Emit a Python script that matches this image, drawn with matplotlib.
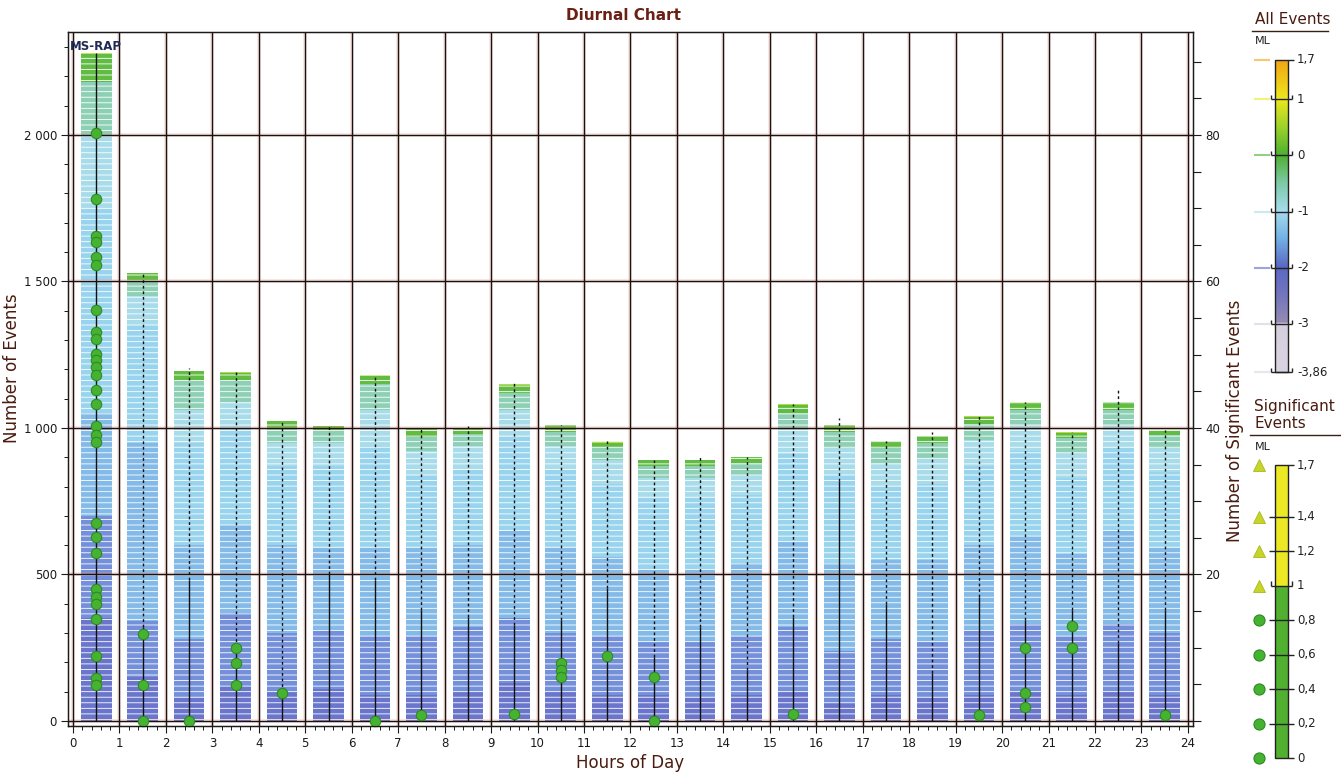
import matplotlib
matplotlib.use("Agg")
import matplotlib.pyplot as plt
import numpy as np
from matplotlib.colors import LinearSegmentedColormap
from matplotlib.ticker import MultipleLocator, FuncFormatter
from matplotlib.patches import Rectangle

W, H = 1341, 776

hours = list(range(24))

# events per hour split by ML class (low -> high):
# <-2.5, -2.5..-2, -2..-1.5, -1.5..-1, -1..-0.5, -0.5..0, 0..0.5, 0.5..1, >=1
counts = [
    [350, 350, 350, 700, 250, 180, 95, 5, 0],
    [150, 190, 610, 400, 100, 50, 28, 2, 0],
    [80, 200, 320, 350, 110, 100, 33, 2, 0],
    [120, 250, 300, 330, 90, 70, 28, 2, 0],
    [100, 200, 300, 270, 80, 50, 23, 2, 0],
    [110, 200, 280, 280, 80, 40, 15, 0, 0],
    [90, 200, 300, 350, 120, 90, 28, 2, 0],
    [90, 200, 300, 250, 80, 50, 25, 0, 0],
    [100, 220, 280, 260, 80, 40, 20, 0, 0],
    [130, 220, 300, 320, 90, 60, 28, 2, 0],
    [100, 200, 290, 270, 80, 45, 25, 0, 0],
    [90, 200, 270, 250, 80, 45, 15, 5, 0],
    [90, 180, 250, 240, 70, 40, 20, 0, 0],
    [80, 190, 250, 240, 70, 40, 20, 0, 0],
    [90, 200, 250, 230, 70, 40, 20, 0, 0],
    [100, 220, 290, 300, 90, 50, 28, 2, 0],
    [60, 180, 300, 300, 90, 55, 25, 0, 0],
    [90, 190, 270, 250, 80, 50, 25, 0, 0],
    [80, 190, 280, 260, 85, 55, 22, 0, 0],
    [90, 220, 290, 270, 90, 55, 23, 2, 0],
    [100, 230, 300, 290, 90, 50, 25, 3, 0],
    [90, 200, 280, 260, 85, 50, 18, 3, 0],
    [100, 230, 320, 280, 80, 50, 28, 0, 0],
    [90, 210, 290, 260, 80, 45, 18, 0, 0],
]

# vertical marker line per hour: solid part, then dotted up to the top
solid_tops = [2280, 320, 480, 252, 100, 500, 480, 380, 355, 328, 345, 454,
              220, 320, 175, 355, 820, 400, 164, 423, 345, 379, 266, 379]
line_tops = [2280, 1530, 1205, 1190, 1025, 1005, 1180, 995, 1005, 1155, 1010, 955,
             890, 908, 900, 1080, 1034, 955, 986, 1040, 1088, 986, 1133, 993]

# significant events (drawn on the events scale)
sig_events = [
    [2007, 1782, 1655, 1635, 1584, 1556, 1403, 1328, 1304, 1253, 1232, 1208, 1181,
     1130, 1082, 1007, 976, 952, 676, 628, 573, 450, 423, 399, 348, 222, 147, 123],
    [297, 123, 0],
    [0],
    [249, 198, 123],
    [96],
    [],
    [0],
    [20],
    [],
    [23],
    [198, 174, 150],
    [222],
    [150, 0],
    [],
    [],
    [23],
    [],
    [],
    [],
    [20],
    [249, 96, 48],
    [324, 249],
    [],
    [20],
]

x_ticks = list(range(25))
y_ticks = [0, 500, 1000, 1500, 2000]
y2_ticks = [20, 40, 60, 80]

all_ticks = [1.7, 1, 0, -1, -2, -3, -3.86]
all_labels = ["1,7", "1", "0", "-1", "-2", "-3", "-3,86"]
sig_ticks = [1.7, 1.4, 1.2, 1, 0.8, 0.6, 0.4, 0.2, 0]
sig_labels = ["1,7", "1,4", "1,2", "1", "0,8", "0,6", "0,4", "0,2", "0"]

bar_colors = ["#6a76cc", "#7490da", "#84bae8", "#98d4ee", "#a8dcea",
              "#8ed0b6", "#62bc44", "#b8dc40", "#e8e030"]

ML_LO, ML_HI = -3.86, 1.7
ml_stops = [(-3.86, "#dad4e2"), (-3.01, "#d4cede"), (-3.0, "#958cb2"),
            (-2.5, "#7476be"), (-2.0, "#5a68c4"), (-1.5, "#72b0e4"),
            (-1.0, "#a6dcee"), (-0.5, "#7ecaa6"), (0.0, "#4eb030"),
            (0.5, "#9cd22a"), (1.0, "#ece81e"), (1.7, "#f2a414")]
cmap = LinearSegmentedColormap.from_list(
    "ml", [((v - ML_LO) / (ML_HI - ML_LO), c) for v, c in ml_stops])

plt.rcParams["hatch.color"] = "white"
plt.rcParams["hatch.linewidth"] = 0.6
plt.rcParams["font.family"] = "DejaVu Sans"

TXT = "#4a1c10"


def fx(px):
    return px / W


def fy(py):
    return 1 - py / H


fig = plt.figure(figsize=(W / 100, H / 100), dpi=100)
fig.set_facecolor("white")

ax = fig.add_axes([fx(68), fy(726), (1193 - 68) / W, (726 - 32) / H])
ax.set_xlim(-0.108, 24.11)
ax.set_ylim(-17, 2351)

xc = np.array(hours) + 0.5
data = np.array(counts)
bottom = np.zeros(len(hours))
for b in range(data.shape[1]):
    ax.bar(xc, data[:, b], width=0.66, bottom=bottom, color=bar_colors[b],
           linewidth=0, hatch="---", zorder=1)
    bottom += data[:, b]

# grid: black lines with a faint red fringe
for x in x_ticks:
    ax.axvline(x, color="#f09a88", lw=2.6, alpha=0.3, zorder=2)
    ax.axvline(x, color="#141414", lw=1.0, zorder=2.1)
for y in y_ticks:
    ax.axhline(y, color="#f09a88", lw=2.6, alpha=0.3, zorder=2)
    ax.axhline(y, color="#141414", lw=1.0, zorder=2.1)

ax.vlines(xc, 0, solid_tops, color="#101010", lw=1.0, zorder=3)
ax.vlines(xc, solid_tops, line_tops, color="#101010", lw=1.0,
          linestyles=(0, (2, 2)), zorder=3)

for h, ys in zip(hours, sig_events):
    if ys:
        ax.plot([h + 0.5] * len(ys), ys, "o", ms=7.5, mfc="#46b232", mec="#2e8a22",
                mew=0.8, zorder=4, clip_on=False)

for s in ax.spines.values():
    s.set_color("#1a1a1a")
    s.set_linewidth(1.0)

ax.set_xticks(x_ticks)
ax.xaxis.set_minor_locator(MultipleLocator(0.2))
ax.tick_params(axis="x", which="major", direction="out", length=5, width=0.8,
               labelsize=8.5, pad=3, colors="#1a1a1a")
ax.tick_params(axis="x", which="minor", direction="out", length=3, width=0.7,
               colors="#1a1a1a")
ax.set_yticks(y_ticks)
ax.yaxis.set_major_formatter(FuncFormatter(lambda v, p: f"{int(v):,}".replace(",", " ")))
ax.yaxis.set_minor_locator(MultipleLocator(100))
ax.tick_params(axis="y", which="major", direction="out", length=5, width=0.8,
               labelsize=8.5, pad=3, colors="#1a1a1a")
ax.tick_params(axis="y", which="minor", direction="out", length=3, width=0.7,
               colors="#1a1a1a")

ax2 = ax.twinx()
lo, hi = ax.get_ylim()
ax2.set_ylim(lo / 25, hi / 25)
ax2.set_yticks(y2_ticks)
ax2.yaxis.set_minor_locator(MultipleLocator(5))
ax2.tick_params(axis="y", which="both", direction="out", length=6, width=0.8,
                labelsize=8.5, pad=3, colors="#1a1a1a")
for s in ax2.spines.values():
    s.set_color("#1a1a1a")

fig.text(fx(70), fy(46), "MS-RAP", fontsize=8.5, fontweight="bold",
         color="#1f2a55", va="center", ha="left")

fig.text(fx(623), fy(16), "Diurnal Chart", fontsize=11, fontweight="bold",
         color="#6a2014", ha="center", va="center")
fig.text(fx(12), fy(368), "Number of Events", fontsize=12, rotation=90,
         color=TXT, ha="center", va="center")
fig.text(fx(630), fy(763), "Hours of Day", fontsize=12, color=TXT,
         ha="center", va="center")
fig.text(fx(1235), fy(421), "Number of Significant Events", fontsize=12,
         rotation=90, color=TXT, ha="center", va="center")

# legend: all events
la = fig.add_axes([fx(1250), fy(372), 91 / W, 312 / H])
la.set_xlim(0, 91)
la.set_ylim(ML_LO, ML_HI)
la.axis("off")
grad = np.linspace(ML_LO, ML_HI, 400)[:, None]
la.imshow(grad, extent=[25, 38, ML_LO, ML_HI], origin="lower", aspect="auto",
          cmap=cmap, vmin=ML_LO, vmax=ML_HI)
la.add_patch(Rectangle((25, ML_LO), 13, ML_HI - ML_LO, fill=False, ec="#222222",
                       lw=1.0, clip_on=False))
for v, lab in zip(all_ticks, all_labels):
    c = cmap((v - ML_LO) / (ML_HI - ML_LO))
    la.hlines(v, 4, 20, color=c, lw=1.5, alpha=0.6, clip_on=False)
    if v == 1.7:
        la.hlines(v, 38, 44, color="#222222", lw=1.0, clip_on=False)
    else:
        la.hlines(v, 21, 42, color="#222222", lw=1.0, clip_on=False)
        la.vlines([21, 42], v, v + 0.07, color="#222222", lw=1.0, clip_on=False)
    la.text(47, v, lab, fontsize=8.5, color="#222222", va="center", ha="left",
            clip_on=False)
fig.text(fx(1255), fy(20), "All Events", fontsize=11, color=TXT, va="center")
fig.add_artist(plt.Line2D([fx(1252), fx(1328)], [fy(31), fy(31)], color="#3a2010", lw=1.0))
fig.text(fx(1255), fy(41), "ML", fontsize=8, color="#222222", va="center")

# legend: significant events
ls = fig.add_axes([fx(1250), fy(758), 91 / W, (758 - 465) / H])
ls.set_xlim(0, 91)
ls.set_ylim(0, 1.7)
ls.axis("off")
ls.add_patch(Rectangle((25, 0), 13, 1.0, color="#52b030", lw=0))
ls.add_patch(Rectangle((25, 1.0), 13, 0.7, color="#ece824", lw=0))
ls.add_patch(Rectangle((25, 0), 13, 1.7, fill=False, ec="#222222", lw=1.0,
                       clip_on=False))
for v, lab in zip(sig_ticks, sig_labels):
    if v in (1.7, 0):
        ls.hlines(v, 38, 44, color="#222222", lw=1.0, clip_on=False)
    elif v == 1:
        ls.hlines(v, 21, 42, color="#222222", lw=1.0, clip_on=False)
        ls.vlines([21, 42], v, v + 0.025, color="#222222", lw=1.0, clip_on=False)
    else:
        ls.hlines(v, 19, 44, color="#222222", lw=1.0, clip_on=False)
    ls.text(47, v, lab, fontsize=8.5, color="#222222", va="center", ha="left",
            clip_on=False)
    if v >= 1:
        ls.plot(9, v, "^", ms=8, mfc="#c8d428", mec="#a8b820", mew=0.6, clip_on=False)
    else:
        ls.plot(9, v, "o", ms=8, mfc="#46b232", mec="#2e8a22", mew=0.8, clip_on=False)
fig.text(fx(1254), fy(406), "Significant", fontsize=11, color=TXT, va="center")
fig.text(fx(1254), fy(424), "Events", fontsize=11, color=TXT, va="center")
fig.add_artist(plt.Line2D([fx(1250), fx(1341)], [fy(435), fy(435)], color="#3a2010", lw=1.0))
fig.text(fx(1255), fy(447), "ML", fontsize=8, color="#222222", va="center")

fig.savefig("out.png", dpi=100)
